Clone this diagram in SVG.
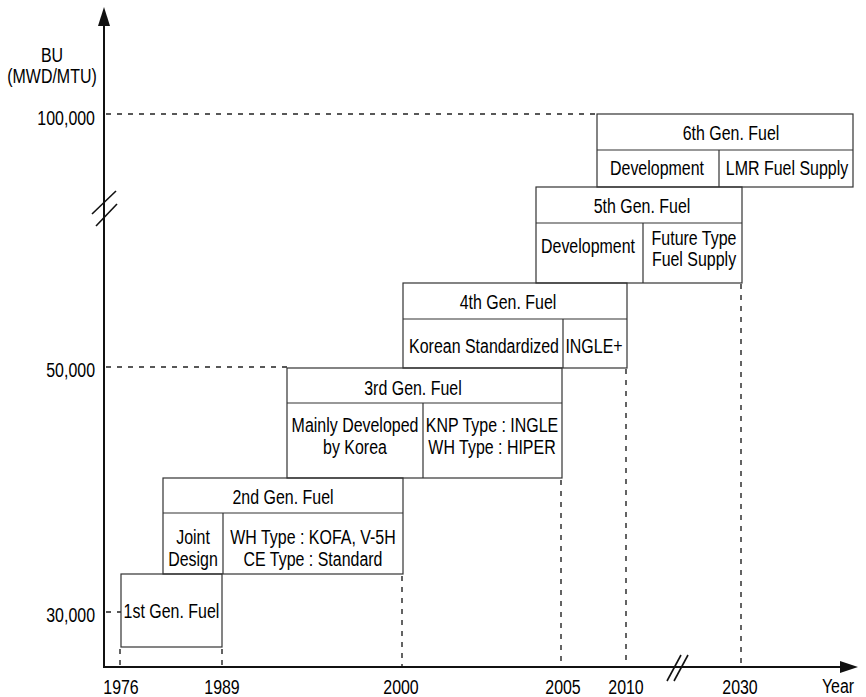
<svg xmlns="http://www.w3.org/2000/svg" width="866" height="697" viewBox="0 0 866 697">
<style>
  text { font-family: "Liberation Sans", Arial, sans-serif; font-size: 21px; fill: #000; }
  .m { text-anchor: middle; }
  .e { text-anchor: end; }
  .box { fill: none; stroke: #333; stroke-width: 1.2; }
  .div { stroke: #333; stroke-width: 1.2; }
  .axis { stroke: #111; stroke-width: 2; fill: none; }
  .dash { stroke: #222; stroke-width: 1.4; stroke-dasharray: 5 6; fill: none; }
  .brk { stroke: #111; stroke-width: 1.6; }
</style>
<rect width="866" height="697" fill="#fff"/>

<g id="connectors">
  <!-- axes -->
  <line class="axis" x1="104" y1="667" x2="104" y2="22"/>
  <polygon points="104,7 98,26 110,26" fill="#111"/>
  <line class="axis" x1="103" y1="667" x2="843" y2="667"/>
  <polygon points="858,667 840,661 840,673" fill="#111"/>
  <!-- axis breaks -->
  <line class="brk" x1="92" y1="214" x2="116" y2="191"/>
  <line class="brk" x1="96" y1="226" x2="117" y2="204"/>
  <line class="brk" x1="667" y1="681" x2="681" y2="655"/>
  <line class="brk" x1="674" y1="681" x2="688" y2="655"/>
  <!-- horizontal reference lines -->
  <line class="dash" x1="106" y1="114" x2="597" y2="114"/>
  <line class="dash" x1="106" y1="367" x2="287" y2="367"/>
  <line class="dash" x1="106" y1="612" x2="121" y2="612"/>
  <!-- vertical year lines -->
  <line class="dash" x1="120" y1="649" x2="120" y2="666"/>
  <line class="dash" x1="222" y1="649" x2="222" y2="666"/>
  <line class="dash" x1="402" y1="576" x2="402" y2="666"/>
  <line class="dash" x1="561" y1="480" x2="561" y2="666"/>
  <line class="dash" x1="626" y1="369" x2="626" y2="666"/>
  <line class="dash" x1="741" y1="284" x2="741" y2="666"/>
</g>

<g id="y-labels">
  <text class="m" transform="translate(52,61.5) scale(0.76,1)"><tspan x="0" y="0">BU</tspan><tspan x="0" dy="22">(MWD/MTU)</tspan></text>
  <text class="e" transform="translate(95,125) scale(0.76,1)">100,000</text>
  <text class="e" transform="translate(95,377) scale(0.76,1)">50,000</text>
  <text class="e" transform="translate(95,622) scale(0.76,1)">30,000</text>
</g>

<g id="x-labels">
  <text class="m" transform="translate(121,694) scale(0.76,1)">1976</text>
  <text class="m" transform="translate(222,694) scale(0.76,1)">1989</text>
  <text class="m" transform="translate(401,694) scale(0.76,1)">2000</text>
  <text class="m" transform="translate(563,694) scale(0.76,1)">2005</text>
  <text class="m" transform="translate(626,694) scale(0.76,1)">2010</text>
  <text class="m" transform="translate(740,694) scale(0.76,1)">2030</text>
  <text class="m" transform="translate(838,693) scale(0.76,1)">Year</text>
</g>

<g id="gen1">
  <rect class="box" x="121" y="574" width="101" height="73"/>
  <text class="m" transform="translate(171.5,618) scale(0.76,1)">1st Gen. Fuel</text>
</g>

<g id="gen2">
  <rect class="box" x="163" y="478" width="240" height="96"/>
  <line class="div" x1="163" y1="513" x2="403" y2="513"/>
  <line class="div" x1="223" y1="513" x2="223" y2="574"/>
  <text class="m" transform="translate(283,504) scale(0.76,1)">2nd Gen. Fuel</text>
  <text class="m" transform="translate(193,544) scale(0.76,1)"><tspan x="0" y="0">Joint</tspan><tspan x="0" dy="22">Design</tspan></text>
  <text class="m" transform="translate(313,544) scale(0.76,1)"><tspan x="0" y="0">WH Type : KOFA, V-5H</tspan><tspan x="0" dy="22">CE Type : Standard</tspan></text>
</g>

<g id="gen3">
  <rect class="box" x="287" y="368" width="275" height="110"/>
  <line class="div" x1="287" y1="403" x2="562" y2="403"/>
  <line class="div" x1="423" y1="403" x2="423" y2="478"/>
  <text class="m" transform="translate(413,395) scale(0.76,1)">3rd Gen. Fuel</text>
  <text class="m" transform="translate(355,432) scale(0.76,1)"><tspan x="0" y="0">Mainly Developed</tspan><tspan x="0" dy="22">by Korea</tspan></text>
  <text class="m" transform="translate(492,432) scale(0.76,1)"><tspan x="0" y="0">KNP Type : INGLE</tspan><tspan x="0" dy="22">WH Type : HIPER</tspan></text>
</g>

<g id="gen4">
  <rect class="box" x="403" y="283" width="224" height="85"/>
  <line class="div" x1="403" y1="319" x2="627" y2="319"/>
  <line class="div" x1="563" y1="319" x2="563" y2="368"/>
  <text class="m" transform="translate(508,309) scale(0.76,1)">4th Gen. Fuel</text>
  <text class="m" transform="translate(484,353) scale(0.76,1)">Korean Standardized</text>
  <text class="m" transform="translate(594,353) scale(0.76,1)">INGLE+</text>
</g>

<g id="gen5">
  <rect class="box" x="536" y="187" width="206" height="96"/>
  <line class="div" x1="536" y1="223" x2="742" y2="223"/>
  <line class="div" x1="643" y1="223" x2="643" y2="283"/>
  <text class="m" transform="translate(642,213) scale(0.76,1)">5th Gen. Fuel</text>
  <text class="m" transform="translate(588,253) scale(0.76,1)">Development</text>
  <text class="m" transform="translate(694,244.5) scale(0.76,1)"><tspan x="0" y="0">Future Type</tspan><tspan x="0" dy="22">Fuel Supply</tspan></text>
</g>

<g id="gen6">
  <rect class="box" x="597" y="114" width="256" height="73"/>
  <line class="div" x1="597" y1="150" x2="853" y2="150"/>
  <line class="div" x1="719" y1="150" x2="719" y2="187"/>
  <text class="m" transform="translate(731,140) scale(0.76,1)">6th Gen. Fuel</text>
  <text class="m" transform="translate(657,175) scale(0.76,1)">Development</text>
  <text class="m" transform="translate(787,175) scale(0.76,1)">LMR Fuel Supply</text>
</g>
</svg>
